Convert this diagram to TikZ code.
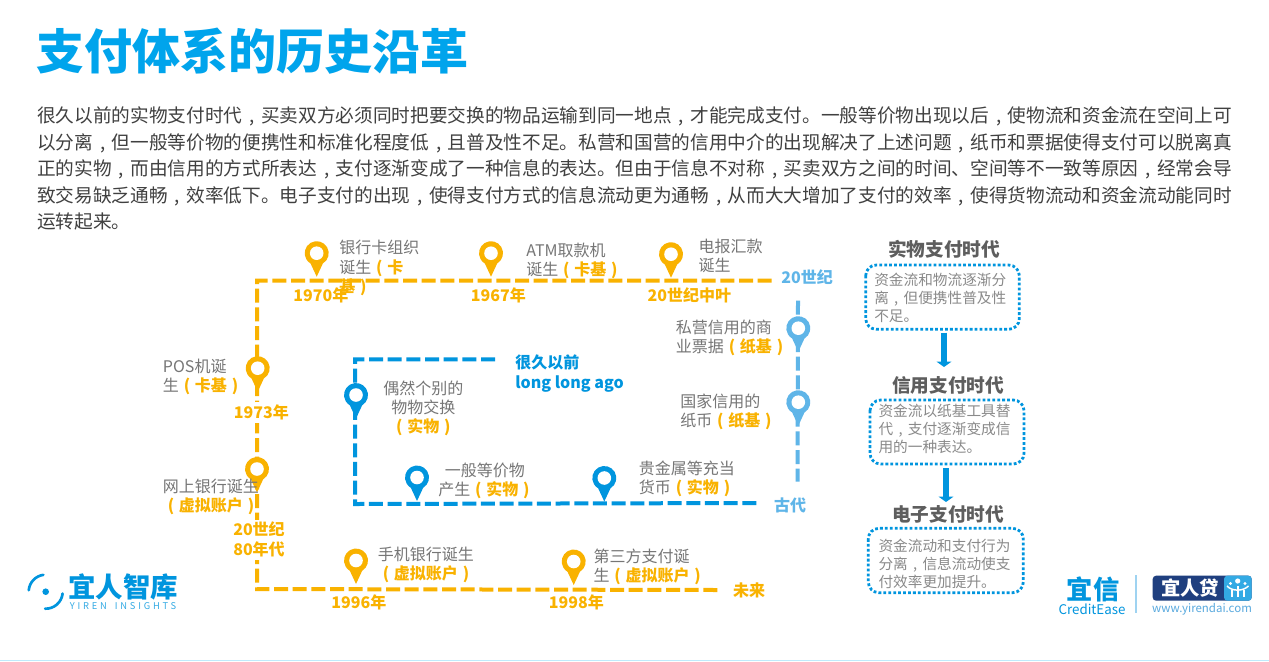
\documentclass[tikz,border=0pt]{standalone}
\usepackage{fontspec}
\setmainfont{Noto Sans CJK SC}
\usetikzlibrary{arrows.meta}
\definecolor{yel}{HTML}{F9B200}
\definecolor{blu}{HTML}{0095DE}
\definecolor{ttlc}{HTML}{00A4EC}
\definecolor{lblu}{HTML}{5FB5E8}
\definecolor{gry}{HTML}{767676}
\definecolor{dgry}{HTML}{5E5E5E}
\definecolor{bodyc}{HTML}{404040}
\definecolor{navy}{HTML}{1F3F7F}
\newcommand\cm{\makebox[1em][c]{,}}
\newcommand\lp{\makebox[1em][c]{(}}
\newcommand\rp{\makebox[1em][c]{)}}
\newcommand\yb[1]{{\color{yel}\bfseries #1}}
\newcommand\yp[1]{{\color{yel}\bfseries\lp #1\rp}}
\tikzset{
  x=0.75pt,y=-0.75pt,
  route/.style={line width=3pt,dash pattern=on 10.5pt off 3.5pt},
  lab/.style={anchor=north west,inner sep=0pt,align=left,text=gry,font=\fontsize{12}{14.5}\selectfont},
  labc/.style={lab,anchor=north,align=center},
  yr/.style={inner sep=0pt,text=yel,font=\fontsize{12}{14.5}\selectfont\bfseries},
  yrbg/.style={yr,fill=white,inner sep=2pt,align=center},
  ttl/.style={inner sep=0pt,text=dgry,font=\fontsize{14}{17}\selectfont\bfseries},
  boxt/.style={anchor=north west,inner sep=0pt,align=left,text=gry!85,font=\fontsize{11}{13.5}\selectfont},
  dotbox/.style={draw=blu,line width=2.1pt,dash pattern=on 2.1pt off 1.6pt,rounded corners=8pt},
  fat/.style={draw=blu,line width=5pt,-{Triangle[width=11pt,length=4pt]}},
  pics/mappin/.style={code={
    \begin{scope}[x=.75pt,y=.75pt]
      \fill[#1] (0,0) -- (6.13,13.18) arc[start angle=-59.3,end angle=239.3,radius=12] -- cycle;
      \fill[white] (0,23.5) circle[radius=6.8];
    \end{scope}}}
}
\begin{document}
\begin{tikzpicture}
\useasboundingbox (0,0) rectangle (1269,661);
\fill[white] (0,0) rectangle (1269,661);
\fill[cyan!25] (0,660) rectangle (1269,661);

% title and body
\node[anchor=center,inner sep=0pt,text=ttlc,font=\fontsize{36}{40}\selectfont\bfseries] (title) at (252.5,51.5) {支付体系的历史沿革};
\node[anchor=north west,inner sep=0pt,align=left,text=bodyc,font=\fontsize{14}{19.9}\selectfont] (body) at (37,106.5) {很久以前的实物支付时代\cm 买卖双方必须同时把要交换的物品运输到同一地点\cm 才能完成支付。一般等价物出现以后\cm 使物流和资金流在空间上可\\以分离\cm 但一般等价物的便携性和标准化程度低\cm 且普及性不足。私营和国营的信用中介的出现解决了上述问题\cm 纸币和票据使得支付可以脱离真\\正的实物\cm 而由信用的方式所表达\cm 支付逐渐变成了一种信息的表达。但由于信息不对称\cm 买卖双方之间的时间、空间等不一致等原因\cm 经常会导\\致交易缺乏通畅\cm 效率低下。电子支付的出现\cm 使得支付方式的信息流动更为通畅\cm 从而大大增加了支付的效率\cm 使得货物流动和资金流动能同时\\运转起来。};

% route end points
\coordinate (yA) at (771.7,280.7);
\coordinate (yB) at (257,280.7);
\coordinate (yC) at (257,589);
\coordinate (yD) at (719,590);
\coordinate (bA) at (495,359.3);
\coordinate (bB) at (355,359.3);
\coordinate (bC) at (355,504);
\coordinate (bD) at (756.7,503);
\coordinate (lA) at (798,300.7);
\coordinate (lB) at (797.5,481.7);

\draw[route,draw=yel] (yA) -- (yB) -- (yC) -- (yD);
\draw[route,draw=blu] (bA) -- (bB) -- (bC) -- (bD);
\draw[route,draw=lblu] (lA) -- (lB);

% year labels (masking the line where it passes through them)
\node[yrbg] (y1973) at (261.3,412.3) {1973年};
\node[yrbg] (y1980) at (259,539.5) {20世纪\\80年代};

% pins
\pic (p1970) at (316.7,276.7) {mappin=yel};
\pic (p1967) at (491,276.7) {mappin=yel};
\pic (p20m) at (671,277.7) {mappin=yel};
\pic (ppos) at (257.7,391.7) {mappin=yel};
\pic (pnet) at (257,492.5) {mappin=yel};
\pic (p1996) at (356,584) {mappin=yel};
\pic (p1998) at (573.7,585) {mappin=yel};
\pic (pa) at (356,418.5) {mappin=blu};
\pic (pb) at (417,501) {mappin=blu};
\pic (pc) at (604.3,501.5) {mappin=blu};
\pic (pd) at (798.3,351.7) {mappin=lblu};
\pic (pe) at (798.3,425.7) {mappin=lblu};

% year/period labels
\node[yr] (y1970) at (320.8,295) {1970年};
\node[yr] (y1967) at (498.3,295) {1967年};
\node[yr] (y20m) at (689.3,295) {20世纪中叶};
\node[yr,text=lblu] (y20c) at (807,277.3) {20世纪};
\node[yr] (y1996) at (358.8,602.3) {1996年};
\node[yr] (y1998) at (576.3,602.3) {1998年};
\node[yr] (yfut) at (749,590.7) {未来};
\node[yr,text=lblu] (yanc) at (790,505) {古代};
\node[yr,text=blu,anchor=north west,align=left] (ylong) at (515,354.7) {很久以前\\long long ago};

% event labels
\node[lab] (e1) at (339,240) {银行卡组织\\诞生\yb{\lp 卡}\\\yb{基\rp}};
\node[lab] (e2) at (526,242.7) {ATM取款机\\诞生\yp{卡基}};
\node[lab] (e3) at (698.3,238.7) {电报汇款\\诞生};
\node[lab] (e4) at (675.7,319.7) {私营信用的商\\业票据\yp{纸基}};
\node[lab] (e5) at (680,393.7) {国家信用的\\纸币\yp{纸基}};
\node[lab] (e6) at (638.7,460.7) {贵金属等充当\\货币\yp{实物}};
\node[lab] (e7) at (438,462.7) {\hspace{5pt}一般等价物\\产生\yp{实物}};
\node[labc] (e8) at (423.3,380.3) {偶然个别的\\物物交换\\\yp{实物}};
\node[lab] (e9) at (162.7,358.7) {POS机诞\\生\yp{卡基}};
\node[lab] (e10) at (162.7,478.7) {网上银行诞生\\\yp{虚拟账户}};
\node[lab] (e11) at (377.7,546.3) {手机银行诞生\\\yp{虚拟账户}};
\node[lab] (e12) at (593.3,548.7) {第三方支付诞\\生\yp{虚拟账户}};

% right-hand panels
\node[ttl] (t1) at (944,249.3) {实物支付时代};
\node[ttl] (t2) at (948.3,385) {信用支付时代};
\node[ttl] (t3) at (948.3,514) {电子支付时代};
\draw[dotbox] (865.7,265) rectangle (1019.3,329.3);
\draw[dotbox] (870,400) rectangle (1024,464);
\draw[dotbox] (868.3,528.3) rectangle (1023.3,592.7);
\node[boxt] (b1) at (874,272.6) {资金流和物流逐渐分\\离\cm 但便携性普及性\\不足。};
\node[boxt] (b2) at (878.3,403.6) {资金流以纸基工具替\\代\cm 支付逐渐变成信\\用的一种表达。};
\node[boxt] (b3) at (878.3,538.3) {资金流动和支付行为\\分离\cm 信息流动使支\\付效率更加提升。};
\coordinate (a1s) at (944,332.7);
\coordinate (a1e) at (944,367);
\coordinate (a2s) at (946,468);
\coordinate (a2e) at (946,502);
\draw[fat] (a1s) -- (a1e);
\draw[fat] (a2s) -- (a2e);

% logo: YiRen Insights
\begin{scope}[shift={(45.7,591.7)},x=.75pt,y=.75pt]
  \draw[blu,line width=2pt,line cap=round] (98:17) arc[start angle=98,end angle=175,radius=17];
  \draw[blu,line width=2pt,line cap=round] (-6:17) arc[start angle=-6,end angle=-92,radius=17];
  \fill[blu] (0,0) circle[radius=3.3];
\end{scope}
\node[inner sep=0pt,text=blu,font=\fontsize{20.6}{24}\selectfont\bfseries] (lg1) at (123,587) {宜人智库};
\node[inner sep=0pt,text=blu!80,font=\fontsize{7}{8}\selectfont\addfontfeature{LetterSpace=30}] (lg2) at (123,606) {YIREN\hspace{6pt}INSIGHTS};

% logo: CreditEase
\node[inner sep=0pt,text=blu,font=\fontsize{19.7}{24}\selectfont\bfseries] (lg3) at (1093,589.3) {宜信};
\node[inner sep=0pt,text=blu,font=\fontsize{10}{12}\selectfont] (lg4) at (1092,609.5) {CreditEase};
\draw[lblu!60,line width=.8pt] (1136,575) -- (1136,613);

% logo: Yirendai
\fill[navy,rounded corners=2.5pt] (1152.7,575.7) rectangle (1251.7,600.7);
\fill[blu!80,rounded corners=2.5pt] (1224,575.7) rectangle (1251.7,600.7);
\node[inner sep=0pt,text=white,font=\fontsize{14.5}{18}\selectfont\bfseries] (lg5) at (1190,588) {宜人贷};
\fill[white] (1237.7,581) circle[radius=2.6] (1230.5,583.5) circle[radius=1.6] (1245,583.5) circle[radius=1.6];
\draw[white,line width=1.1pt] (1227,586) .. controls (1232,591.5) and (1243,591.5) .. (1248.5,586);
\draw[white,line width=1.5pt] (1231.7,589.5) -- (1231.7,597) (1237.7,586) -- (1237.7,597) (1244,589.5) -- (1244,597);
\node[inner sep=0pt,text=lblu!90!navy,font=\fontsize{8.6}{11}\selectfont] (lg6) at (1202,609) {www.yirendai.com};
\end{tikzpicture}
\end{document}
